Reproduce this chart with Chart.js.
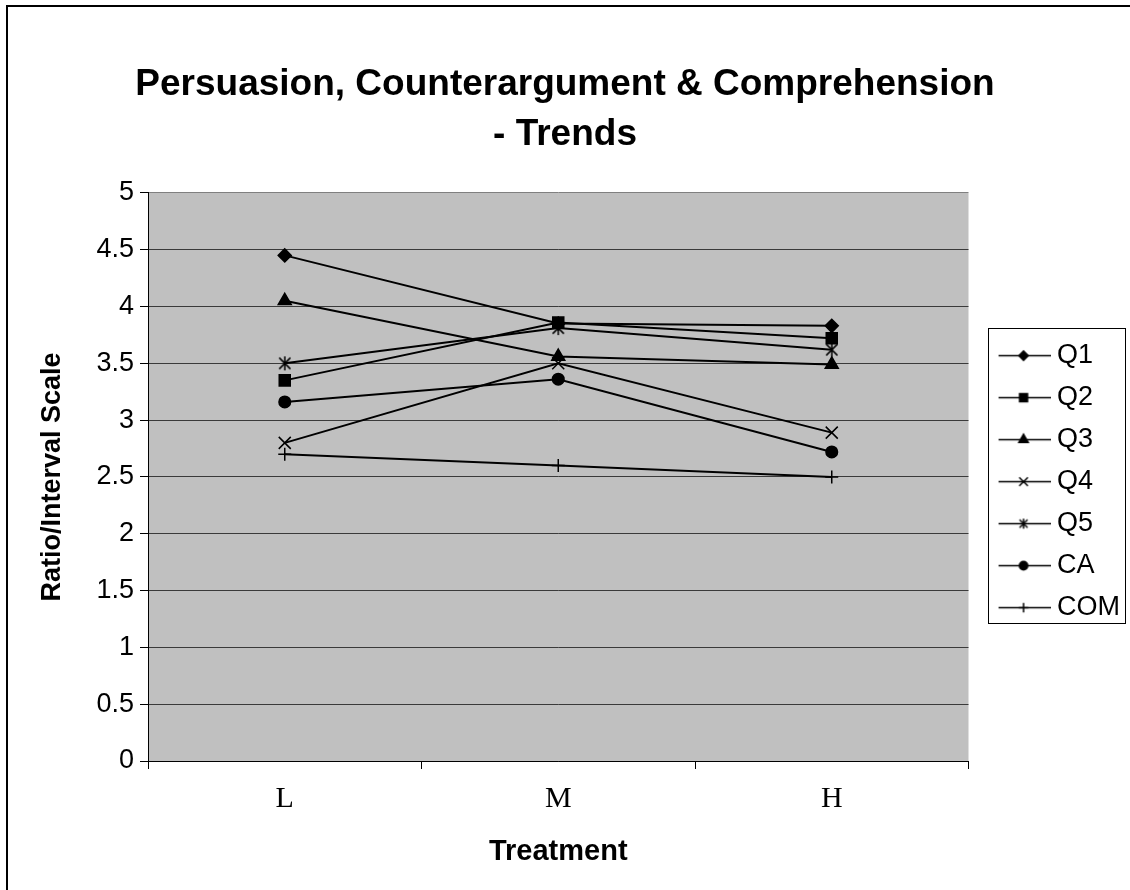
<!DOCTYPE html>
<html>
<head>
<meta charset="utf-8">
<title>Persuasion, Counterargument &amp; Comprehension - Trends</title>
<script src="https://cdn.jsdelivr.net/npm/chart.js@4.4.1/dist/chart.umd.min.js"></script>
<style>
  html, body { margin: 0; padding: 0; background: #fff; }
  #wrap { width: 1130px; height: 890px; }
</style>
</head>
<body>
<div id="wrap"><canvas id="trendChart" width="1130" height="890"></canvas></div>
<script>
// Data
const treatments = ['L', 'M', 'H'];
const seriesNames = ['Q1', 'Q2', 'Q3', 'Q4', 'Q5', 'CA', 'COM'];
const q1 = [4.45, 3.85, 3.83];
const q2 = [3.35, 3.86, 3.72];
const q3 = [4.05, 3.56, 3.49];
const q4 = [2.80, 3.50, 2.89];
const q5 = [3.50, 3.81, 3.62];
const ca = [3.16, 3.36, 2.72];
const com = [2.70, 2.60, 2.50];
const yTicks = [0, 0.5, 1, 1.5, 2, 2.5, 3, 3.5, 4, 4.5, 5];

const SANS = "'Liberation Sans', Arial, sans-serif";
const SERIF = "'Liberation Serif', 'Times New Roman', serif";

// asterisk marker (X with a vertical bar), like the spreadsheet one
function makeStar(size) {
    const c = document.createElement('canvas');
    c.width = size; c.height = size;
    const g = c.getContext('2d');
    const m = size / 2, r = size / 2 - 1;
    g.strokeStyle = '#000';
    g.lineWidth = 1.5;
    g.beginPath();
    g.moveTo(m - r * 0.8, m - r * 0.8); g.lineTo(m + r * 0.8, m + r * 0.8);
    g.moveTo(m + r * 0.8, m - r * 0.8); g.lineTo(m - r * 0.8, m + r * 0.8);
    g.moveTo(m, m - r); g.lineTo(m, m + r);
    g.stroke();
    return c;
}

const markers = [
    { style: 'rectRot', radius: 6.5 },
    { style: 'rect', radius: 7.8 },
    { style: 'triangle', radius: 7.5 },
    { style: 'crossRot', radius: 8.5 },
    { style: makeStar(16), radius: 8 },
    { style: 'circle', radius: 5.8 },
    { style: 'cross', radius: 6.5 }
];

// small line + marker picture used in the legend
function legendSymbol(marker) {
    const c = document.createElement('canvas');
    c.width = 74; c.height = 20;
    const g = c.getContext('2d');
    g.strokeStyle = '#000';
    g.fillStyle = '#000';
    g.lineWidth = 1.5;
    g.beginPath();
    g.moveTo(22, 10.5); g.lineTo(74, 10.5);
    g.stroke();
    if (typeof marker.style === 'string') {
        Chart.helpers.drawPoint(g, { pointStyle: marker.style, radius: marker.radius * 0.72, rotation: 0, borderWidth: 1.5 }, 47, 10.5);
    } else {
        g.drawImage(makeStar(12), 41, 4.5);
    }
    return c;
}

const seriesValues = [q1, q2, q3, q4, q5, ca, com];

const datasets = seriesNames.map((name, i) => ({
    label: name,
    data: seriesValues[i],
    borderColor: '#000',
    backgroundColor: '#000',
    borderWidth: 2,
    pointStyle: markers[i].style,
    pointRadius: markers[i].radius,
    pointBorderWidth: 1.5,
    pointBorderColor: '#000',
    pointBackgroundColor: '#000',
    tension: 0,
    fill: false
}));

const frameAndBackground = {
    id: 'frameAndBackground',
    beforeDraw(chart) {
        const { ctx, chartArea } = chart;
        ctx.save();
        ctx.fillStyle = '#fff';
        ctx.fillRect(0, 0, chart.width, chart.height);
        ctx.fillStyle = '#c0c0c0';
        ctx.fillRect(chartArea.left, chartArea.top, chartArea.right - chartArea.left, chartArea.bottom - chartArea.top);
        ctx.restore();
    },
    afterDraw(chart) {
        const { ctx, chartArea, legend } = chart;
        ctx.save();
        // outer frame
        ctx.strokeStyle = '#000';
        ctx.lineWidth = 2;
        ctx.strokeRect(7, 6, 1300, 1000);
        // legend box
        const mid = (chartArea.top + chartArea.bottom) / 2;
        ctx.lineWidth = 1;
        ctx.strokeRect(Math.round(legend.left + 19) + 0.5, Math.round(mid - 149) + 0.5, 137, 295);
        ctx.restore();
    }
};

new Chart(document.getElementById('trendChart'), {
    type: 'line',
    data: {
        labels: treatments,
        datasets: datasets
    },
    options: {
        responsive: false,
        animation: false,
        layout: {
            padding: { left: 0, right: 0, top: 0, bottom: 0 }
        },
        plugins: {
            title: {
                display: true,
                text: ['Persuasion, Counterargument & Comprehension', '- Trends'],
                color: '#000',
                fullSize: true,
                font: { family: SANS, size: 37, weight: 'bold', lineHeight: 1.35 },
                padding: { top: 60, bottom: 33 }
            },
            legend: {
                position: 'right',
                fullSize: false,
                title: { display: true, text: '', font: { size: 7 }, padding: 0 },
                labels: {
                    color: '#000',
                    font: { family: SANS, size: 27 },
                    usePointStyle: true,
                    pointStyleWidth: 60,
                    padding: 15,
                    generateLabels(chart) {
                        return chart.data.datasets.map((ds, i) => ({
                            text: ds.label,
                            fillStyle: '#000',
                            strokeStyle: '#000',
                            fontColor: '#000',
                            lineWidth: 0,
                            hidden: false,
                            datasetIndex: i,
                            pointStyle: legendSymbol(markers[i])
                        }));
                    }
                }
            },
            tooltip: { enabled: false }
        },
        scales: {
            x: {
                type: 'category',
                offset: true,
                grid: {
                    offset: true,
                    drawOnChartArea: true,
                    color: ctx => ctx.index === treatments.length ? '#808080' : 'rgba(0,0,0,0)',
                    tickColor: '#000',
                    tickLength: 8,
                    lineWidth: 1
                },
                border: { display: true, color: '#000', width: 1 },
                ticks: {
                    color: '#000',
                    font: { family: SERIF, size: 30 },
                    padding: 12,
                    maxRotation: 0
                },
                title: {
                    display: true,
                    text: 'Treatment',
                    color: '#000',
                    font: { family: SANS, size: 29, weight: 'bold' },
                    padding: { top: 0, bottom: 21 }
                },
                afterFit(scale) { scale.height = 129; }
            },
            y: {
                min: yTicks[0],
                max: yTicks[yTicks.length - 1],
                afterBuildTicks(scale) { scale.ticks = yTicks.map(v => ({ value: v })); },
                grid: {
                    color: ctx => (ctx.tick && ctx.tick.value === 5) ? '#808080' : '#3a3a3a',
                    tickColor: '#000',
                    tickLength: 8,
                    lineWidth: 1
                },
                border: { display: true, color: '#000', width: 1 },
                ticks: {
                    color: '#000',
                    font: { family: SANS, size: 27 },
                    padding: 6,
                    callback: v => String(v)
                },
                title: {
                    display: true,
                    text: 'Ratio/Interval Scale',
                    color: '#000',
                    font: { family: SANS, size: 27, weight: 'bold' },
                    padding: { top: 36, bottom: 0 }
                },
                afterFit(scale) { scale.width = 148; }
            }
        }
    },
    plugins: [frameAndBackground]
});
</script>
</body>
</html>
